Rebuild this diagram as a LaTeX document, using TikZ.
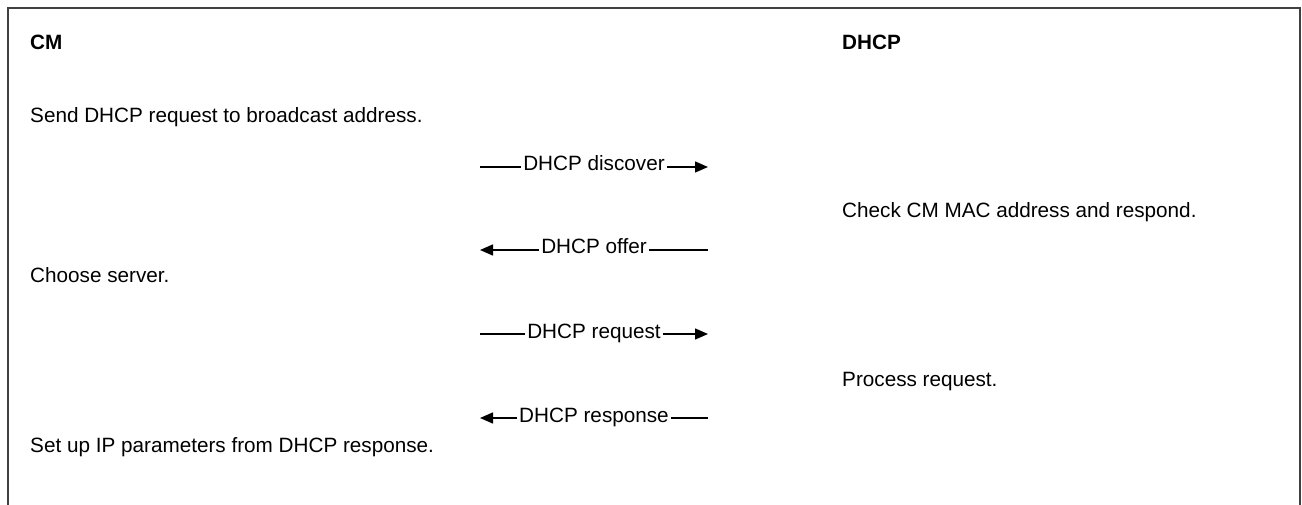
\documentclass[tikz,border=0pt]{standalone}
\usepackage{fontspec}
\setmainfont{Liberation Sans}
\usetikzlibrary{arrows.meta}

\begin{document}
\begin{tikzpicture}[
x=1pt, y=-1pt,
txt/.style={anchor=base west, inner sep=0pt, font=\fontsize{20.7}{24}\selectfont},
hdr/.style={txt, font=\fontsize{20.7}{24}\selectfont\bfseries},
msg/.style={line width=1.5pt},
lbl/.style={anchor=base, fill=white, inner xsep=2pt, inner ysep=1pt, yshift=-4pt, font=\fontsize{20.7}{24}\selectfont},
frame/.style={draw=black!75, line width=2pt},
>={Triangle[length=13pt,width=11pt]}
]
\useasboundingbox (0,0) rectangle (1302,505);
\draw[frame] (7.5,505) -- (7.5,8.5) -- (1299.5,8.5) -- (1299.5,505);

% headers
\node[hdr] (cm) at (30,50) {CM};
\node[hdr] (dhcp) at (842,50) {DHCP};

% steps
\node[txt] (send) at (30,123) {Send DHCP request to broadcast address.};
\node[txt] (check) at (842,218) {Check CM MAC address and respond.};
\node[txt] (choose) at (30,283) {Choose server.};
\node[txt] (process) at (842,386) {Process request.};
\node[txt] (setup) at (30,452) {Set up IP parameters from DHCP response.};

% messages
\coordinate (discL) at (480,167);
\coordinate (discR) at (708,167);
\coordinate (offerL) at (480,250);
\coordinate (offerR) at (708,250);
\coordinate (reqL) at (480,334);
\coordinate (reqR) at (708,334);
\coordinate (respL) at (480,418);
\coordinate (respR) at (708,418);

\draw[msg,->] (discL) -- node[lbl]{DHCP discover} (discR);
\draw[msg,->] (offerR) -- node[lbl]{DHCP offer} (offerL);
\draw[msg,->] (reqL) -- node[lbl]{DHCP request} (reqR);
\draw[msg,->] (respR) -- node[lbl]{DHCP response} (respL);
\end{tikzpicture}
\end{document}
